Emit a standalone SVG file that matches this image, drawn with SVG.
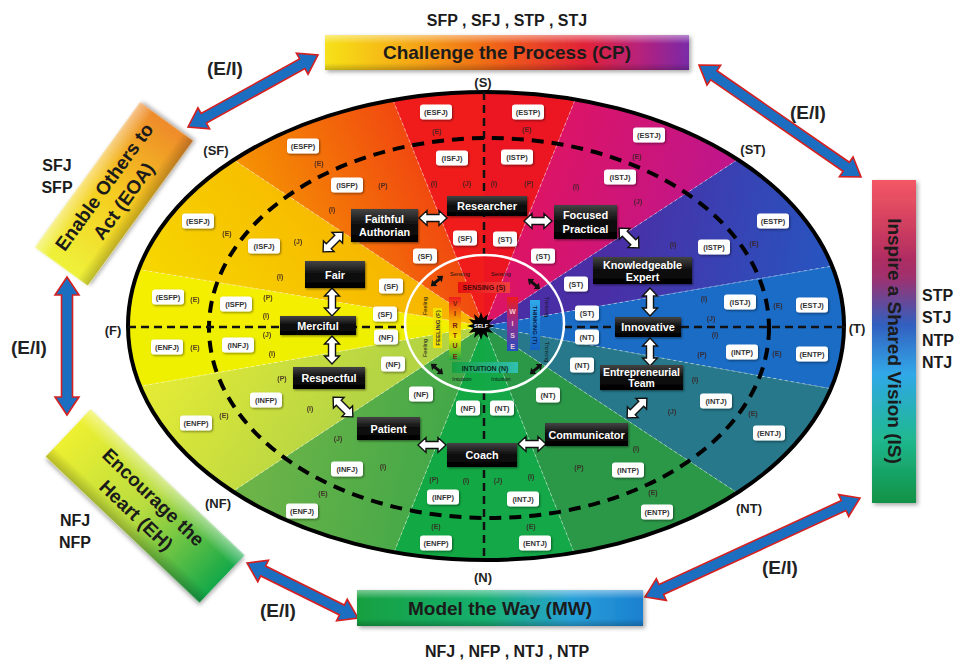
<svg xmlns="http://www.w3.org/2000/svg" width="956" height="661" viewBox="0 0 956 661">
<style>
text{font-family:"Liberation Sans",Arial,sans-serif;font-weight:bold}
.lb{font-size:7.5px;fill:#333;text-anchor:middle}
.lt{font-size:7px;fill:#3a2222;text-anchor:middle;opacity:.85}
.nt{font-size:10.8px;fill:#fff;text-anchor:middle}
.al{font-size:13px;fill:#222;text-anchor:middle}
.ei{font-size:19px;fill:#222;text-anchor:middle}
.big{font-size:19px;fill:#1b1b1b;text-anchor:middle}
.mb{font-size:16px;fill:#1b1b1b}
.bd{stroke:#fff;stroke-opacity:.45;stroke-width:1;stroke-dasharray:3 3;fill:none}
.ax{stroke:#111;stroke-width:2.5;stroke-dasharray:8 5;fill:none}
.nb{fill:url(#gb);filter:url(#sh)}
.ba{fill:#1c6fc0;stroke:#d62020;stroke-width:1.6}
.sm{font-size:5.5px;fill:#111;text-anchor:middle;font-weight:normal}
.cl{font-size:7px;text-anchor:middle}
</style>
<defs>
<filter id="sh" x="-20%" y="-30%" width="150%" height="170%"><feDropShadow dx="1" dy="1.2" stdDeviation="0.8" flood-color="#000" flood-opacity="0.45"/></filter>
<filter id="sh2" x="-10%" y="-10%" width="125%" height="130%"><feDropShadow dx="2" dy="2" stdDeviation="2" flood-color="#000" flood-opacity="0.35"/></filter>
<clipPath id="oc"><ellipse cx="486" cy="326" rx="358" ry="234"/></clipPath>
<linearGradient id="gb" x1="0" y1="0" x2="0" y2="1"><stop offset="0" stop-color="#444"/><stop offset=".45" stop-color="#111"/><stop offset="1" stop-color="#000"/></linearGradient>
<linearGradient id="bev" x1="0" y1="0" x2="0" y2="1"><stop offset="0" stop-color="#fff" stop-opacity=".45"/><stop offset=".25" stop-color="#fff" stop-opacity="0"/><stop offset=".8" stop-color="#000" stop-opacity="0"/><stop offset="1" stop-color="#000" stop-opacity=".22"/></linearGradient>
<linearGradient id="gCP" x1="0" y1="0" x2="1" y2="0"><stop offset="0" stop-color="#f6e21a"/><stop offset=".25" stop-color="#f5a514"/><stop offset=".5" stop-color="#ef5a1a"/><stop offset=".72" stop-color="#e0203a"/><stop offset=".86" stop-color="#b8207a"/><stop offset="1" stop-color="#7a2aa8"/></linearGradient>
<linearGradient id="gEOA" x1="0" y1="0" x2="1" y2="0"><stop offset="0" stop-color="#eef23a"/><stop offset=".5" stop-color="#f6cc20"/><stop offset="1" stop-color="#ee8a2a"/></linearGradient>
<linearGradient id="gIS" x1="0" y1="0" x2="0" y2="1"><stop offset="0" stop-color="#ee1c2c"/><stop offset=".3" stop-color="#a0306e"/><stop offset=".45" stop-color="#3060c0"/><stop offset=".6" stop-color="#30a8e8"/><stop offset=".8" stop-color="#20b890"/><stop offset="1" stop-color="#12a850"/></linearGradient>
<linearGradient id="gMW" x1="0" y1="0" x2="1" y2="0"><stop offset="0" stop-color="#14a040"/><stop offset=".45" stop-color="#18b070"/><stop offset=".75" stop-color="#28a0d8"/><stop offset="1" stop-color="#1a80d0"/></linearGradient>
<linearGradient id="gEH" x1="0" y1="0" x2="1" y2="0"><stop offset="0" stop-color="#eef030"/><stop offset=".5" stop-color="#b8dc40"/><stop offset="1" stop-color="#14a848"/></linearGradient>
<linearGradient id="gS2" gradientUnits="userSpaceOnUse" x1="150" y1="290" x2="320" y2="150"><stop offset="0" stop-color="#f6d800"/><stop offset="1" stop-color="#f7b400"/></linearGradient>
<linearGradient id="gS3" gradientUnits="userSpaceOnUse" x1="220" y1="200" x2="430" y2="110"><stop offset="0" stop-color="#f6a000"/><stop offset="1" stop-color="#f03c12"/></linearGradient>
<linearGradient id="gS6" gradientUnits="userSpaceOnUse" x1="560" y1="120" x2="720" y2="170"><stop offset="0" stop-color="#dc1466"/><stop offset="1" stop-color="#c0168a"/></linearGradient>
<linearGradient id="gS7" gradientUnits="userSpaceOnUse" x1="620" y1="200" x2="840" y2="240"><stop offset="0" stop-color="#4a2ea6"/><stop offset="1" stop-color="#2656c0"/></linearGradient>
<linearGradient id="gS14" gradientUnits="userSpaceOnUse" x1="250" y1="500" x2="420" y2="540"><stop offset="0" stop-color="#6cb448"/><stop offset="1" stop-color="#44a848"/></linearGradient>
<linearGradient id="gS15" gradientUnits="userSpaceOnUse" x1="150" y1="400" x2="300" y2="500"><stop offset="0" stop-color="#e2ea36"/><stop offset="1" stop-color="#b4d444"/></linearGradient>
<linearGradient id="gSen" x1="0" y1="0" x2="1" y2="0"><stop offset="0" stop-color="#e81010"/><stop offset="1" stop-color="#f04040"/></linearGradient>
<linearGradient id="gVir" x1="0" y1="0" x2="0" y2="1"><stop offset="0" stop-color="#ee1c1c"/><stop offset=".35" stop-color="#f5a000"/><stop offset=".65" stop-color="#f0e800"/><stop offset="1" stop-color="#20a840"/></linearGradient>
<linearGradient id="gWis" x1="0" y1="0" x2="0" y2="1"><stop offset="0" stop-color="#ee1c1c"/><stop offset=".45" stop-color="#9a2a8a"/><stop offset="1" stop-color="#2050c0"/></linearGradient>
<linearGradient id="gThk" x1="0" y1="0" x2="0" y2="1"><stop offset="0" stop-color="#30a8e8"/><stop offset="1" stop-color="#1460c0"/></linearGradient>
<linearGradient id="gInt" x1="0" y1="0" x2="1" y2="0"><stop offset="0" stop-color="#18a040"/><stop offset="1" stop-color="#30c0b0"/></linearGradient>
<rect id="r4" x="-16" y="-7.5" width="32" height="15" rx="3" fill="#fff" filter="url(#sh)"/>
<rect id="r2" x="-12" y="-7.5" width="24" height="15" rx="3" fill="#fff" filter="url(#sh)"/>
<path id="wa" d="M-14,0 L-6,-7.5 L-6,-3.5 L6,-3.5 L6,-7.5 L14,0 L6,7.5 L6,3.5 L-6,3.5 L-6,7.5 Z" fill="#fff" stroke="#111" stroke-width="1.4"/>
<path id="bk" d="M-8,0 L-3,-4 L-3,-1.5 L3,-1.5 L3,-4 L8,0 L3,4 L3,1.5 L-3,1.5 L-3,4 Z" fill="#111"/>
</defs>

<rect width="956" height="661" fill="#fff"/>

<!-- wheel -->
<g id="wheel">
<g clip-path="url(#oc)">
<polygon points="484,326 -400,326 -401,181" fill="#f4ee00"/>
<polygon points="484,326 -401,181 -133.5,-84" fill="url(#gS2)"/>
<polygon points="484,326 -133.5,-84 256.5,-239" fill="url(#gS3)"/>
<polygon points="484,326 256.5,-239 484,-300" fill="#f01c1c"/>
<polygon points="484,326 484,-300 711.5,-239" fill="#ec1622"/>
<polygon points="484,326 711.5,-239 1116.5,-89" fill="url(#gS6)"/>
<polygon points="484,326 1116.5,-89 1341.5,178.5" fill="url(#gS7)"/>
<polygon points="484,326 1341.5,178.5 1400,326" fill="#1a6cc6"/>
<polygon points="484,326 1400,326 1341.5,481" fill="#1a6cc4"/>
<polygon points="484,326 1341.5,481 1106.5,736" fill="#26788a"/>
<polygon points="484,326 1106.5,736 711.5,898.5" fill="#2b9848"/>
<polygon points="484,326 711.5,898.5 484,900" fill="#14a848"/>
<polygon points="484,326 484,900 256.5,898.5" fill="#12a844"/>
<polygon points="484,326 256.5,898.5 -138.5,736" fill="url(#gS14)"/>
<polygon points="484,326 -138.5,736 -401,481" fill="url(#gS15)"/>
<polygon points="484,326 -401,481 -400,326" fill="#eef000"/>
<path class="bd" d="M484,326 L-401,181 M484,326 L-133.5,-84 M484,326 L256.5,-239 M484,326 L711.5,-239 M484,326 L1116.5,-89 M484,326 L1341.5,178.5 M484,326 L1341.5,481 M484,326 L1106.5,736 M484,326 L711.5,898.5 M484,326 L256.5,898.5 M484,326 L-138.5,736 M484,326 L-401,481"/>
</g>
<ellipse cx="486" cy="326" rx="358" ry="234" fill="none" stroke="#000" stroke-width="4"/>
<ellipse cx="489" cy="328" rx="280" ry="190" fill="none" stroke="#000" stroke-width="4" stroke-dasharray="12 8"/>
<path class="ax" d="M484,92 V255 M484,392 V560 M128,327 H405 M564,327 H845"/>
<ellipse cx="484.5" cy="323.5" rx="79.5" ry="68.5" fill="none" stroke="#fff" stroke-width="2.5"/>
</g>

<!-- axis labels -->
<g id="axis-labels">
<text class="al" x="483" y="87">(S)</text>
<text class="al" x="483" y="582">(N)</text>
<text class="al" x="113" y="335">(F)</text>
<text class="al" x="857" y="333">(T)</text>
<text class="al" x="216" y="155">(SF)</text>
<text class="al" x="753" y="154">(ST)</text>
<text class="al" x="218" y="508">(NF)</text>
<text class="al" x="749" y="513">(NT)</text>
</g>

<!-- type labels -->
<g id="type-labels">
<use href="#r4" x="303" y="146"/><text class="lb" x="303" y="148.7">(ESFP)</text>
<use href="#r4" x="436" y="112"/><text class="lb" x="436" y="114.7">(ESFJ)</text>
<use href="#r4" x="452" y="158"/><text class="lb" x="452" y="160.7">(ISFJ)</text>
<use href="#r4" x="347" y="185"/><text class="lb" x="347" y="187.7">(ISFP)</text>
<use href="#r4" x="198" y="221"/><text class="lb" x="198" y="223.7">(ESFJ)</text>
<use href="#r4" x="264" y="246"/><text class="lb" x="264" y="248.7">(ISFJ)</text>
<use href="#r4" x="168" y="297"/><text class="lb" x="168" y="299.7">(ESFP)</text>
<use href="#r4" x="236" y="304"/><text class="lb" x="236" y="306.7">(ISFP)</text>
<use href="#r4" x="528" y="112"/><text class="lb" x="528" y="114.7">(ESTP)</text>
<use href="#r4" x="517" y="157"/><text class="lb" x="517" y="159.7">(ISTP)</text>
<use href="#r4" x="649" y="135"/><text class="lb" x="649" y="137.7">(ESTJ)</text>
<use href="#r4" x="620" y="177"/><text class="lb" x="620" y="179.7">(ISTJ)</text>
<use href="#r4" x="773" y="221"/><text class="lb" x="773" y="223.7">(ESTP)</text>
<use href="#r4" x="714" y="247"/><text class="lb" x="714" y="249.7">(ISTP)</text>
<use href="#r4" x="740" y="302"/><text class="lb" x="740" y="304.7">(ISTJ)</text>
<use href="#r4" x="812" y="305"/><text class="lb" x="812" y="307.7">(ESTJ)</text>
<use href="#r4" x="742" y="352"/><text class="lb" x="742" y="354.7">(INTP)</text>
<use href="#r4" x="812" y="354"/><text class="lb" x="812" y="356.7">(ENTP)</text>
<use href="#r4" x="716" y="401"/><text class="lb" x="716" y="403.7">(INTJ)</text>
<use href="#r4" x="769" y="433"/><text class="lb" x="769" y="435.7">(ENTJ)</text>
<use href="#r4" x="628" y="470"/><text class="lb" x="628" y="472.7">(INTP)</text>
<use href="#r4" x="657" y="512"/><text class="lb" x="657" y="514.7">(ENTP)</text>
<use href="#r4" x="523" y="499"/><text class="lb" x="523" y="501.7">(INTJ)</text>
<use href="#r4" x="535" y="543"/><text class="lb" x="535" y="545.7">(ENTJ)</text>
<use href="#r4" x="167" y="347"/><text class="lb" x="167" y="349.7">(ENFJ)</text>
<use href="#r4" x="238" y="345"/><text class="lb" x="238" y="347.7">(INFJ)</text>
<use href="#r4" x="266" y="400"/><text class="lb" x="266" y="402.7">(INFP)</text>
<use href="#r4" x="196" y="423"/><text class="lb" x="196" y="425.7">(ENFP)</text>
<use href="#r4" x="347" y="469"/><text class="lb" x="347" y="471.7">(INFJ)</text>
<use href="#r4" x="302" y="511"/><text class="lb" x="302" y="513.7">(ENFJ)</text>
<use href="#r4" x="443" y="497"/><text class="lb" x="443" y="499.7">(INFP)</text>
<use href="#r4" x="436" y="543"/><text class="lb" x="436" y="545.7">(ENFP)</text>
<use href="#r2" x="465" y="238"/><text class="lb" x="465" y="240.7">(SF)</text>
<use href="#r2" x="425" y="256"/><text class="lb" x="425" y="258.7">(SF)</text>
<use href="#r2" x="391" y="286"/><text class="lb" x="391" y="288.7">(SF)</text>
<use href="#r2" x="385" y="314"/><text class="lb" x="385" y="316.7">(SF)</text>
<use href="#r2" x="505" y="239"/><text class="lb" x="505" y="241.7">(ST)</text>
<use href="#r2" x="543" y="256"/><text class="lb" x="543" y="258.7">(ST)</text>
<use href="#r2" x="576" y="284"/><text class="lb" x="576" y="286.7">(ST)</text>
<use href="#r2" x="587" y="313"/><text class="lb" x="587" y="315.7">(ST)</text>
<use href="#r2" x="587" y="337"/><text class="lb" x="587" y="339.7">(NT)</text>
<use href="#r2" x="582" y="365"/><text class="lb" x="582" y="367.7">(NT)</text>
<use href="#r2" x="548" y="395"/><text class="lb" x="548" y="397.7">(NT)</text>
<use href="#r2" x="502" y="408"/><text class="lb" x="502" y="410.7">(NT)</text>
<use href="#r2" x="386" y="337"/><text class="lb" x="386" y="339.7">(NF)</text>
<use href="#r2" x="393" y="364"/><text class="lb" x="393" y="366.7">(NF)</text>
<use href="#r2" x="421" y="394"/><text class="lb" x="421" y="396.7">(NF)</text>
<use href="#r2" x="468" y="408"/><text class="lb" x="468" y="410.7">(NF)</text>
</g>

<!-- letter labels -->
<g id="letters">
<text class="lt" x="437" y="133.5">(E)</text><text class="lt" x="434" y="185.5">(I)</text><text class="lt" x="467" y="185.5">(J)</text><text class="lt" x="383" y="187.5">(P)</text>
<text class="lt" x="319" y="165.5">(E)</text><text class="lt" x="332" y="211.5">(I)</text><text class="lt" x="227" y="235.5">(E)</text><text class="lt" x="298" y="243.5">(J)</text>
<text class="lt" x="280" y="278.5">(I)</text><text class="lt" x="195" y="301.5">(E)</text><text class="lt" x="268" y="299.5">(P)</text><text class="lt" x="266" y="317.5">(I)</text>
<text class="lt" x="527" y="131.5">(E)</text><text class="lt" x="494" y="185.5">(I)</text><text class="lt" x="529" y="185.5">(P)</text><text class="lt" x="576" y="188.5">(I)</text>
<text class="lt" x="637" y="158.5">(E)</text><text class="lt" x="638" y="203.5">(J)</text><text class="lt" x="673" y="246.5">(I)</text><text class="lt" x="754" y="245.5">(E)</text>
<text class="lt" x="704" y="300.5">(I)</text><text class="lt" x="778" y="307.5">(E)</text><text class="lt" x="711" y="320.5">(J)</text>
<text class="lt" x="715" y="336.5">(I)</text><text class="lt" x="702" y="356.5">(P)</text><text class="lt" x="777" y="355.5">(E)</text><text class="lt" x="695" y="381.5">(I)</text>
<text class="lt" x="672" y="413.5">(J)</text><text class="lt" x="753" y="415.5">(E)</text><text class="lt" x="636" y="450.5">(I)</text><text class="lt" x="579" y="469.5">(P)</text>
<text class="lt" x="653" y="494.5">(E)</text><text class="lt" x="531" y="478.5">(I)</text><text class="lt" x="498" y="482.5">(J)</text><text class="lt" x="531" y="528.5">(E)</text>
<text class="lt" x="267" y="336.5">(J)</text><text class="lt" x="195" y="349.5">(E)</text><text class="lt" x="272" y="355.5">(I)</text><text class="lt" x="282" y="380.5">(P)</text>
<text class="lt" x="224" y="417.5">(E)</text><text class="lt" x="310" y="410.5">(I)</text><text class="lt" x="338" y="440.5">(J)</text><text class="lt" x="383" y="468.5">(I)</text>
<text class="lt" x="323" y="495.5">(E)</text><text class="lt" x="434" y="481.5">(P)</text><text class="lt" x="466" y="482.5">(I)</text><text class="lt" x="436" y="528.5">(E)</text>
</g>

<!-- core -->
<g id="core">
<rect x="458" y="282" width="52" height="11" fill="url(#gSen)"/>
<text class="cl" x="484" y="290.3" fill="#4a0808">SENSING (S)</text>
<rect x="449" y="297" width="12" height="63" fill="url(#gVir)"/>
<g class="cl" fill="#7a1a10"><text x="455" y="305.5">V</text><text x="455" y="315.5">I</text><text x="455" y="327.5">R</text><text x="455" y="337.5">T</text><text x="455" y="347.5">U</text><text x="455" y="358.5">E</text></g>
<rect x="507" y="297" width="11" height="54" fill="url(#gWis)"/>
<g class="cl" fill="#f4c8d0"><text x="512.5" y="314">W</text><text x="512.5" y="325.5">I</text><text x="512.5" y="337.5">S</text><text x="512.5" y="348.5">E</text></g>
<rect x="433" y="308" width="9" height="40" fill="#f0e400"/>
<text class="cl" style="font-size:6px" fill="#333" transform="translate(437.5,328) rotate(-90)" y="2.2">FEELING (F)</text>
<rect x="530" y="300" width="10" height="50" fill="url(#gThk)"/>
<text class="cl" style="font-size:6px" fill="#0a1a4a" transform="translate(535,325) rotate(90)" y="2.2">THINKING (T)</text>
<rect x="452" y="362" width="66" height="11" fill="url(#gInt)"/>
<text class="cl" x="485" y="370.5" fill="#0a2a1a">INTUITION (N)</text>
<text class="sm" x="460" y="276">Sensing</text>
<text class="sm" x="501" y="276">Sensing</text>
<text class="sm" x="462" y="381">Intuition</text>
<text class="sm" x="501" y="381">Intuition</text>
<text class="sm" transform="translate(427,306) rotate(-90)">Feeling</text>
<text class="sm" transform="translate(427,348) rotate(-90)">Feeling</text>
<text class="sm" transform="translate(545,307) rotate(90)">Thinking</text>
<text class="sm" transform="translate(545,352) rotate(90)">Thinking</text>
<use href="#bk" transform="translate(437,281) rotate(-40)"/>
<use href="#bk" transform="translate(534,284) rotate(40)"/>
<use href="#bk" transform="translate(437,369) rotate(40)"/>
<use href="#bk" transform="translate(536,369) rotate(-40)"/>
<polygon points="495,326 488.7,328.1 493.1,333 486.7,331.7 488,338.1 483.1,333.7 481,340 478.9,333.7 474,338.1 475.3,331.7 468.9,333 473.3,328.1 467,326 473.3,323.9 468.9,319 475.3,320.3 474,313.9 478.9,318.3 481,312 483.1,318.3 488,313.9 486.7,320.3 493.1,319 488.7,323.9" fill="#000"/>
<text x="481" y="328" style="font-size:5.5px" fill="#fff" text-anchor="middle">SELF</text>
</g>

<!-- connectors -->
<g id="connectors">
<path class="ba" transform="translate(188,127) rotate(-28.98)" d="M0,0 L18,-12 L18,-5.5 L130.6,-5.5 L130.6,-12 L148.6,0 L130.6,12 L130.6,5.5 L18,5.5 L18,12 Z"/>
<path class="ba" transform="translate(699,65) rotate(34.66)" d="M0,0 L18,-12 L18,-5.5 L179,-5.5 L179,-12 L197,0 L179,12 L179,5.5 L18,5.5 L18,12 Z"/>
<path class="ba" transform="translate(67,277) rotate(90)" d="M0,0 L18,-12 L18,-5.5 L120,-5.5 L120,-12 L138,0 L120,12 L120,5.5 L18,5.5 L18,12 Z"/>
<path class="ba" transform="translate(247,563) rotate(26.35)" d="M0,0 L18,-12 L18,-5.5 L105.9,-5.5 L105.9,-12 L123.9,0 L105.9,12 L105.9,5.5 L18,5.5 L18,12 Z"/>
<path class="ba" transform="translate(645,597) rotate(-24.72)" d="M0,0 L18,-12 L18,-5.5 L218.7,-5.5 L218.7,-12 L236.7,0 L218.7,12 L218.7,5.5 L18,5.5 L18,12 Z"/>
<text class="ei" x="225" y="75">(E/I)</text>
<text class="ei" x="808" y="119">(E/I)</text>
<text class="ei" x="29" y="354">(E/I)</text>
<text class="ei" x="278" y="617">(E/I)</text>
<text class="ei" x="780" y="574">(E/I)</text>
<use href="#wa" transform="translate(433,218)"/>
<use href="#wa" transform="translate(538,221)"/>
<use href="#wa" transform="translate(629,238) rotate(45)"/>
<use href="#wa" transform="translate(650,302) rotate(90)"/>
<use href="#wa" transform="translate(650,352) rotate(90)"/>
<use href="#wa" transform="translate(637,408) rotate(-45)"/>
<use href="#wa" transform="translate(532,444)"/>
<use href="#wa" transform="translate(432,445)"/>
<use href="#wa" transform="translate(343,407) rotate(45)"/>
<use href="#wa" transform="translate(332,350) rotate(90)"/>
<use href="#wa" transform="translate(332,302) rotate(90)"/>
<use href="#wa" transform="translate(333,242) rotate(-45)"/>
</g>

<!-- inner nodes -->
<g id="n-researcher"><rect class="nb" x="447" y="196" width="80" height="20"/><text class="nt" x="487" y="210" style="font-size:11px">Researcher</text></g>
<g id="n-faithful"><rect class="nb" x="351" y="209" width="67" height="33"/><text class="nt" x="384.5" y="223">Faithful</text><text class="nt" x="384.5" y="236">Authorian</text></g>
<g id="n-focused"><rect class="nb" x="554" y="205" width="63" height="34"/><text class="nt" x="585.5" y="219" style="font-size:11px">Focused</text><text class="nt" x="585.5" y="233" style="font-size:11px">Practical</text></g>
<g id="n-knowledgeable"><rect class="nb" x="593" y="257" width="99" height="27"/><text class="nt" x="642.5" y="268.5">Knowledgeable</text><text class="nt" x="642.5" y="280.5">Expert</text></g>
<g id="n-innovative"><rect class="nb" x="615" y="317" width="66" height="20"/><text class="nt" x="648" y="331">Innovative</text></g>
<g id="n-entrepreneurial"><rect class="nb" x="600" y="365" width="83" height="25"/><text class="nt" x="641.5" y="375.5" style="font-size:10.4px">Entrepreneurial</text><text class="nt" x="641.5" y="387" style="font-size:10.4px">Team</text></g>
<g id="n-communicator"><rect class="nb" x="545" y="423" width="83" height="23"/><text class="nt" x="586.5" y="438.5">Communicator</text></g>
<g id="n-coach"><rect class="nb" x="447" y="443" width="70" height="24"/><text class="nt" x="482" y="459">Coach</text></g>
<g id="n-patient"><rect class="nb" x="357" y="417" width="63" height="23"/><text class="nt" x="388.5" y="432.5">Patient</text></g>
<g id="n-respectful"><rect class="nb" x="293" y="367" width="72" height="22"/><text class="nt" x="329" y="382">Respectful</text></g>
<g id="n-merciful"><rect class="nb" x="280" y="316" width="76" height="19"/><text class="nt" x="318" y="329.5">Merciful</text></g>
<g id="n-fair"><rect class="nb" x="305" y="261" width="60" height="27"/><text class="nt" x="335" y="278.5">Fair</text></g>

<!-- outer nodes -->
<g id="cp">
<rect x="325" y="35" width="364" height="35" fill="url(#gCP)" filter="url(#sh2)"/>
<rect x="325" y="35" width="364" height="35" fill="url(#bev)"/>
<text class="big" x="507" y="59">Challenge the Process (CP)</text>
<text class="mb" x="507" y="26" text-anchor="middle">SFP , SFJ , STP , STJ</text>
</g>
<g id="eoa">
<g transform="translate(114,194) rotate(-54)">
<rect x="-89.5" y="-32.5" width="179" height="65" fill="url(#gEOA)" filter="url(#sh2)"/>
<rect x="-89.5" y="-32.5" width="179" height="65" fill="url(#bev)"/>
<text class="big" y="-5.5">Enable Others to</text>
<text class="big" y="18.5">Act (EOA)</text>
</g>
<text class="mb" x="57" y="171" text-anchor="middle">SFJ</text>
<text class="mb" x="57" y="193" text-anchor="middle">SFP</text>
</g>
<g id="is">
<rect x="872" y="180" width="44" height="323" fill="url(#gIS)" filter="url(#sh2)"/>
<rect x="872" y="180" width="44" height="323" fill="url(#bev)" opacity=".6"/>
<text class="big" transform="translate(894,341) rotate(90)" y="6.5">Inspire a Shared Vision (IS)</text>
<text class="mb" x="922" y="301">STP</text>
<text class="mb" x="922" y="323">STJ</text>
<text class="mb" x="922" y="346">NTP</text>
<text class="mb" x="922" y="368">NTJ</text>
</g>
<g id="mw">
<rect x="357" y="590" width="286" height="36" fill="url(#gMW)" filter="url(#sh2)"/>
<rect x="357" y="590" width="286" height="36" fill="url(#bev)"/>
<text class="big" x="500" y="614.5">Model the Way (MW)</text>
<text class="mb" x="507" y="657" text-anchor="middle">NFJ , NFP , NTJ , NTP</text>
</g>
<g id="eh">
<g transform="translate(145,506) rotate(43.5)">
<rect x="-106" y="-32.5" width="212" height="65" fill="url(#gEH)" filter="url(#sh2)"/>
<rect x="-106" y="-32.5" width="212" height="65" fill="url(#bev)"/>
<text class="big" y="-5.5">Encourage the</text>
<text class="big" y="19.5">Heart (EH)</text>
</g>
<text class="mb" x="75" y="526" text-anchor="middle">NFJ</text>
<text class="mb" x="75" y="548" text-anchor="middle">NFP</text>
</g>
</svg>
